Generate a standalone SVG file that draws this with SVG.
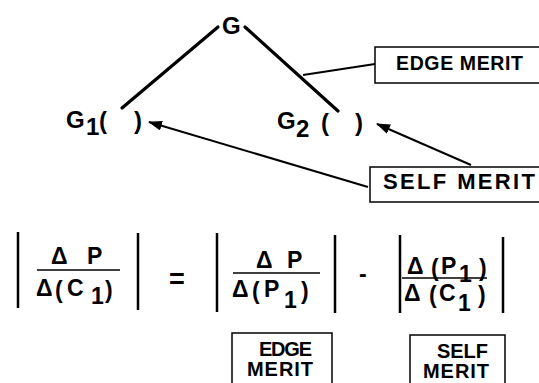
<svg xmlns="http://www.w3.org/2000/svg" width="539" height="383" viewBox="0 0 539 383">
<style>
text{font-family:"Liberation Sans",Arial,sans-serif;font-weight:bold;fill:#000}
.n{font-size:24px}
.f{font-size:23px}
.box{fill:#fff;stroke:#000;stroke-width:1.5}
.bar{stroke:#000;stroke-width:2.5}
.frac{stroke:#000;stroke-width:1.5}
.edge{stroke:#000;stroke-width:3.2;stroke-linecap:round}
.arr{stroke:#000;stroke-width:2;marker-end:url(#ah)}
</style>
<defs>
<marker id="ah" markerWidth="14" markerHeight="10" refX="13" refY="5" orient="auto" markerUnits="userSpaceOnUse">
<path d="M0,0 L14,5 L0,10 Z" fill="#000"/>
</marker>
</defs>
<rect width="539" height="383" fill="#fff"/>
<g id="connectors">
<line class="edge" x1="218" y1="27" x2="122" y2="108"/>
<line class="edge" x1="245" y1="27" x2="338" y2="111"/>
<line x1="303" y1="75" x2="375" y2="64" stroke="#000" stroke-width="1.8"/>
<line class="arr" x1="368" y1="187" x2="149" y2="122"/>
<line class="arr" x1="471" y1="165" x2="377" y2="124"/>
</g>
<g id="node-G"><text class="n" x="222" y="34">G</text></g>
<g id="node-G1"><text class="n"><tspan x="66" y="128">G</tspan><tspan x="86" y="135">1</tspan><tspan x="99" y="129">(</tspan><tspan x="134" y="129">)</tspan></text></g>
<g id="node-G2"><text class="n"><tspan x="277" y="129">G</tspan><tspan x="296" y="137">2</tspan><tspan x="321" y="131">(</tspan><tspan x="355" y="131">)</tspan></text></g>
<g id="edge-merit-label">
<rect class="box" x="375" y="47" width="180" height="36"/>
<text x="396" y="70" font-size="19.5" textLength="127" lengthAdjust="spacing">EDGE MERIT</text>
</g>
<g id="self-merit-label">
<rect class="box" x="370" y="167" width="180" height="35"/>
<text x="383" y="189" font-size="22" textLength="152" lengthAdjust="spacing">SELF MERIT</text>
</g>
<g id="formula">
<line class="bar" x1="18" y1="232" x2="18" y2="308" stroke-width="3"/>
<text class="f"><tspan x="51" y="264">Δ</tspan><tspan x="87" y="264">P</tspan></text>
<line class="frac" x1="37" y1="270" x2="120" y2="270"/>
<text class="f"><tspan x="36" y="296">Δ</tspan><tspan x="55" y="298">(</tspan><tspan x="67" y="296">C</tspan><tspan x="91" y="304">1</tspan><tspan x="105" y="298">)</tspan></text>
<line class="bar" x1="138" y1="233" x2="138" y2="310"/>
<text x="169" y="288" font-size="27">=</text>
<line class="bar" x1="217" y1="233" x2="217" y2="312"/>
<text class="f"><tspan x="256" y="268">Δ</tspan><tspan x="287" y="268">P</tspan></text>
<line class="frac" x1="233" y1="273" x2="320" y2="273"/>
<text class="f"><tspan x="232" y="297">Δ</tspan><tspan x="252" y="299">(</tspan><tspan x="264" y="297">P</tspan><tspan x="284" y="308">1</tspan><tspan x="301" y="299">)</tspan></text>
<line class="bar" x1="335" y1="235" x2="335" y2="313"/>
<text x="359" y="282" font-size="23">-</text>
<line class="bar" x1="400" y1="235" x2="400" y2="313" stroke-width="3.5"/>
<text class="f"><tspan x="407" y="274">Δ</tspan><tspan x="431" y="276">(</tspan><tspan x="441" y="274">P</tspan><tspan x="459" y="282">1</tspan><tspan x="479" y="276">)</tspan></text>
<line class="frac" x1="402" y1="278" x2="487" y2="278"/>
<text class="f"><tspan x="404" y="301">Δ</tspan><tspan x="429" y="303">(</tspan><tspan x="439" y="301">C</tspan><tspan x="458" y="311">1</tspan><tspan x="478" y="303">)</tspan></text>
<line class="bar" x1="503" y1="237" x2="503" y2="313"/>
</g>
<g id="edge-merit-box">
<rect class="box" x="232" y="333" width="100" height="60"/>
<text x="259" y="356" font-size="20" textLength="53" lengthAdjust="spacing">EDGE</text>
<text x="247" y="376" font-size="20" textLength="66" lengthAdjust="spacing">MERIT</text>
</g>
<g id="self-merit-box">
<rect class="box" x="410" y="335" width="95" height="60"/>
<text x="437" y="358" font-size="20" textLength="51" lengthAdjust="spacing">SELF</text>
<text x="423" y="378" font-size="20" textLength="66" lengthAdjust="spacing">MERIT</text>
</g>
</svg>
